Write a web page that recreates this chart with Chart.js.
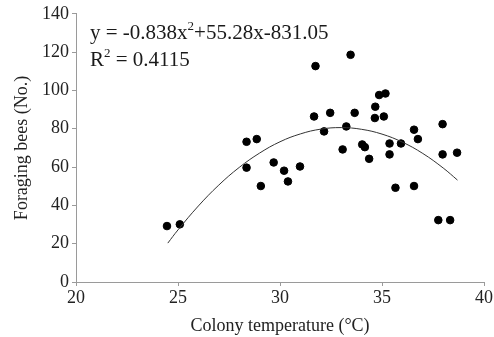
<!DOCTYPE html>
<html>
<head>
<meta charset="utf-8">
<script src="https://cdn.jsdelivr.net/npm/chart.js@4"></script>
<style>
  body { margin: 0; background: #fff; }
  #wrap { width: 494px; height: 337px; }
</style>
</head>
<body>
<div id="wrap"><canvas id="beeChart"></canvas></div>
<script>
// observed colonies: temperature (°C) vs foraging bees
const colonyTemp = [24.46, 25.09, 28.36, 28.86, 28.36, 29.06, 29.69, 30.2, 30.39, 30.98,
  31.67, 31.74, 32.16, 32.46, 33.07, 33.25, 33.46, 33.66, 34.03, 34.16,
  34.37, 34.67, 34.65, 34.86, 35.17, 35.09, 35.37, 35.37, 35.66, 35.93,
  36.57, 36.76, 36.57, 37.76, 37.97, 37.97, 38.34, 38.68];
const foragingBees = [29.2, 30.1, 73.2, 74.6, 59.7, 50.1, 62.4, 58.1, 52.5, 60.3,
  86.4, 112.7, 78.6, 88.3, 69.2, 81.2, 118.6, 88.3, 71.8, 70.4,
  64.3, 91.5, 85.6, 97.6, 98.4, 86.4, 72.3, 66.6, 49.2, 72.3,
  79.5, 74.6, 50.1, 32.3, 82.4, 66.6, 32.3, 67.5];

// trend curve
const trendX = [24.5, 25, 26, 27, 28, 29, 30, 31, 32, 33, 34, 35, 36, 37, 38, 38.7];
const trendY = [20.3, 27.2, 39.7, 50.6, 59.8, 67.3, 73.2, 77.3, 79.8, 80.6, 79.7, 77.2, 73.0, 67.1, 59.5, 53.2];

const xTicks = [20, 25, 30, 35, 40];
const yTicks = [0, 20, 40, 60, 80, 100, 120, 140];

const serif = "'Liberation Serif', 'DejaVu Serif', serif";
const axisGray = "#9a9a9a";

const equationLabel = {
  id: "equationLabel",
  afterDraw(chart) {
    const ctx = chart.ctx;
    const x0 = chart.chartArea.left + 14;
    ctx.save();
    ctx.fillStyle = "#1a1a1a";
    ctx.textBaseline = "alphabetic";

    const big = "21px " + serif;
    const small = "13px " + serif;
    let x = x0, y = 39;
    ctx.font = big;
    let s = "y = -0.838x";
    ctx.fillText(s, x, y);
    x += ctx.measureText(s).width;
    ctx.font = small;
    ctx.fillText("2", x, y - 9);
    x += ctx.measureText("2").width;
    ctx.font = big;
    ctx.fillText("+55.28x-831.05", x, y);

    x = x0; y = 66;
    ctx.fillText("R", x, y);
    x += ctx.measureText("R").width;
    ctx.font = small;
    ctx.fillText("2", x, y - 9);
    x += ctx.measureText("2").width;
    ctx.font = big;
    ctx.fillText(" = 0.4115", x, y);
    ctx.restore();
  }
};

const ctx = document.getElementById("beeChart").getContext("2d");
new Chart(ctx, {
  type: "scatter",
  data: {
    datasets: [
      {
        label: "Colonies",
        data: colonyTemp.map((t, i) => ({ x: t, y: foragingBees[i] })),
        backgroundColor: "#000",
        borderColor: "#000",
        pointRadius: 3.8,
        order: 2,
      },
      {
        type: "line",
        label: "Fit",
        data: trendX.map((t, i) => ({ x: t, y: trendY[i] })),
        borderColor: "#333",
        borderWidth: 1,
        pointRadius: 0,
        tension: 0.4,
        fill: false,
        order: 1,
      },
    ],
  },
  options: {
    responsive: true,
    maintainAspectRatio: false,
    animation: false,
    layout: { padding: { top: 13, right: 6, left: 0, bottom: 0 } },
    plugins: {
      legend: { display: false },
      tooltip: { enabled: false },
    },
    scales: {
      x: {
        type: "linear",
        min: 20,
        max: 40,
        afterBuildTicks: (scale) => { scale.ticks = xTicks.map((v) => ({ value: v })); },
        afterFit: (scale) => { scale.height = 55; },
        grid: { drawOnChartArea: false, tickLength: 4, color: axisGray },
        border: { color: axisGray, width: 1 },
        ticks: { color: "#222", font: { family: serif, size: 18 }, padding: 1, maxRotation: 0 },
        title: {
          display: true,
          text: "Colony temperature (°C)",
          color: "#222",
          font: { family: serif, size: 18 },
          padding: { top: 0, bottom: 0 },
        },
      },
      y: {
        min: 0,
        max: 140,
        afterBuildTicks: (scale) => { scale.ticks = yTicks.map((v) => ({ value: v })); },
        afterFit: (scale) => { scale.width = 76; },
        grid: { drawOnChartArea: false, tickLength: 4, color: axisGray },
        border: { color: axisGray, width: 1 },
        ticks: { color: "#222", font: { family: serif, size: 18 }, padding: 3 },
        title: {
          display: true,
          text: "Foraging bees (No.)",
          color: "#222",
          font: { family: serif, size: 18 },
          padding: { top: 11, bottom: 0 },
        },
      },
    },
  },
  plugins: [equationLabel],
});
</script>
</body>
</html>
